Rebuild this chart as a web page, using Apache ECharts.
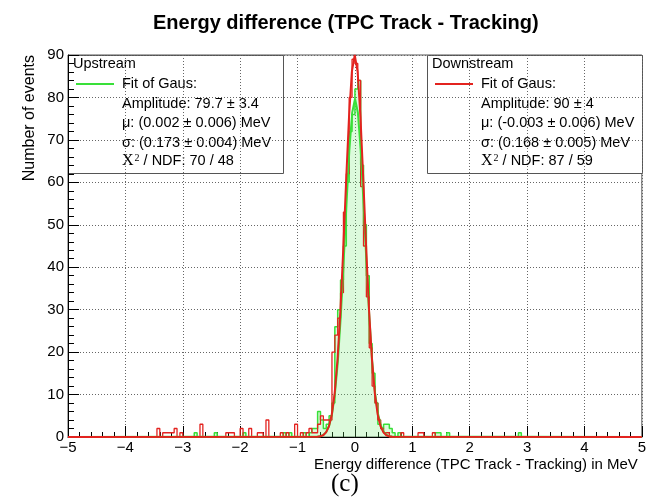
<!DOCTYPE html>
<html>
<head>
<meta charset="utf-8">
<script src="https://cdn.jsdelivr.net/npm/echarts@6/dist/echarts.min.js"></script>
<style>
  html, body { margin: 0; padding: 0; background: #fff; }
  #chart { width: 649px; height: 502px; }
</style>
</head>
<body>
<div id="chart"></div>
<script>
// Histogram binning: 200 bins of 0.05 MeV over [-5, 5]
const binWidth = 0.05;
const rangeMin = -5;
const rangeMax = 5;

// Core region counts, bins starting at -0.70 MeV
const coreStart = -0.70;
const upstreamCore = [2, 6, 4, 2, 3, 5, 8, 26, 30, 37, 45, 60, 72, 76,
                      82, 84, 64, 50, 38, 22, 15, 8, 3, 2, 3, 3, 2, 1];
const downstreamCore = [1, 3, 5, 4, 4, 4, 20, 24, 28, 34, 53, 62, 80, 89,
                        88, 84, 59, 45, 33, 21, 12, 8, 4, 2, 1, 1, 0, 0];

// Isolated tail bins: [bin low edge in MeV, count]
const upstreamTail = [[-2.80, 1], [-2.45, 1], [-1.95, 1], [-1.25, 1], [-1.15, 1],
                      [-0.90, 1], [-0.80, 1], [-0.75, 2], [0.75, 1], [1.40, 1],
                      [1.45, 1], [1.60, 1], [2.85, 1]];
const downstreamTail = [[-3.45, 2], [-3.35, 1], [-3.30, 1], [-3.25, 1], [-3.20, 1],
                        [-3.15, 2], [-3.05, 1], [-2.70, 3], [-2.25, 1], [-2.20, 1],
                        [-2.15, 1], [-2.00, 2], [-1.85, 2], [-1.70, 1], [-1.65, 1],
                        [-1.55, 4], [-1.30, 1], [-1.20, 1], [-1.05, 3], [-0.95, 1],
                        [-0.85, 1], [-0.80, 2], [-0.75, 1], [0.80, 1], [1.10, 1],
                        [1.15, 1], [1.35, 1]];

// Gaussian fit curves sampled around the peak (offset from the fitted mean)
const fitOffsets = [-0.65, -0.60, -0.55, -0.50, -0.45, -0.40, -0.35, -0.30, -0.25,
                    -0.20, -0.15, -0.10, -0.05, 0, 0.05, 0.10, 0.15, 0.20, 0.25,
                    0.30, 0.35, 0.40, 0.45, 0.50, 0.55, 0.60, 0.65];
const upstreamMean = 0.002;
const downstreamMean = -0.003;
const upstreamFit = [0.1, 0.2, 0.5, 1.2, 2.7, 5.5, 10.3, 17.7, 28.1, 40.9, 54.7, 67.4,
                     76.4, 79.7, 76.4, 67.4, 54.7, 40.9, 28.1, 17.7, 10.3, 5.5, 2.7,
                     1.2, 0.5, 0.2, 0.1];
const downstreamFit = [0.05, 0.15, 0.4, 1.1, 2.5, 5.3, 10.3, 18.3, 29.7, 44.3, 60.4,
                       75.4, 86.1, 90, 86.1, 75.4, 60.4, 44.3, 29.7, 18.3, 10.3, 5.3,
                       2.5, 1.1, 0.4, 0.15, 0.05];

// Axis ticks
const xTicks = [-5, -4, -3, -2, -1, 0, 1, 2, 3, 4, 5];
const yTicks = [0, 10, 20, 30, 40, 50, 60, 70, 80, 90];

// Fit summary text
const upstreamStats = ['Amplitude: 79.7 \u00b1 3.4', '\u03bc: (0.002 \u00b1 0.006) MeV',
                       '\u03c3: (0.173 \u00b1 0.004) MeV', ['70', '48']];
const downstreamStats = ['Amplitude: 90 \u00b1 4', '\u03bc: (-0.003 \u00b1 0.006) MeV',
                         '\u03c3: (0.168 \u00b1 0.005) MeV', ['87', '59']];

const nBins = Math.round((rangeMax - rangeMin) / binWidth);
function binIndex(x) { return Math.round((x - rangeMin) / binWidth); }

function buildHistogram(core, tail) {
  const counts = new Array(nBins).fill(0);
  core.forEach((c, k) => { counts[binIndex(coreStart + k * binWidth)] = c; });
  tail.forEach(([x, c]) => { counts[binIndex(x)] = c; });
  const pts = counts.map((c, i) => [rangeMin + i * binWidth, c]);
  pts.push([rangeMax, counts[nBins - 1]]);
  return pts;
}

function buildFit(values, mean) {
  const pts = [[rangeMin, 0]];
  fitOffsets.forEach((dx, i) => pts.push([+(dx + mean).toFixed(4), values[i]]));
  pts.push([rangeMax, 0]);
  return pts;
}

const FONT = 'Liberation Sans, Arial, Helvetica, sans-serif';
const SERIF = 'Liberation Serif, Times New Roman, serif';
const GREEN = '#39e039';
const RED = '#e3231f';
const BOX_FONT = '14.5px ' + FONT;

function minusFmt(v) { return v < 0 ? '\u2212' + (-v) : String(v); }

function statsBox(x, label, color, stats) {
  const w = 215, h = 118, y = 55;
  const lines = [
    { type: 'text', left: x + 5, top: y + 1, style: { text: label, font: BOX_FONT, fill: '#000' } },
    { type: 'line', shape: { x1: x + 8, y1: y + 29, x2: x + 46, y2: y + 29 }, style: { stroke: color, lineWidth: 2 } },
    { type: 'text', left: x + 54, top: y + 21, style: { text: 'Fit of Gaus:', font: BOX_FONT, fill: '#000' } }
  ];
  stats.slice(0, 3).forEach((s, i) => {
    lines.push({ type: 'text', left: x + 54, top: y + 41 + i * 19.5,
      style: { text: s, font: BOX_FONT, fill: '#000' } });
  });
  const chi = stats[3];
  lines.push({ type: 'text', left: x + 54, top: y + 98,
    style: {
      text: '{c|\u03a7}{s|2}{t| / NDF: ' + chi[0] + ' / ' + chi[1] + '}',
      rich: {
        c: { font: '16px ' + SERIF, fill: '#000' },
        s: { font: '10px ' + SERIF, fill: '#000', verticalAlign: 'top', padding: [0, 0, 6, 1] },
        t: { font: BOX_FONT, fill: '#000' }
      }
    } });
  return {
    type: 'group', z: 100,
    children: [
      { type: 'rect', shape: { x: x + 0.5, y: y + 0.5, width: w, height: h },
        style: { fill: '#fff', stroke: '#555', lineWidth: 1 } }
    ].concat(lines)
  };
}

const chart = echarts.init(document.getElementById('chart'), null, { renderer: 'canvas' });

const option = {
  animation: false,
  backgroundColor: '#fff',
  title: {
    text: 'Energy difference (TPC Track - Tracking)',
    left: 148, top: 8,
    textStyle: { fontFamily: FONT, fontSize: 20, fontWeight: 'bold', color: '#000' }
  },
  grid: { left: 68, right: 7, top: 55, bottom: 65, show: true, borderColor: '#555', borderWidth: 1 },
  xAxis: {
    type: 'value', min: xTicks[0], max: xTicks[xTicks.length - 1], interval: 1,
    name: 'Energy difference (TPC Track - Tracking) in MeV',
    nameLocation: 'end', nameGap: -4,
    nameTextStyle: { fontFamily: FONT, fontSize: 15, color: '#000', align: 'right', verticalAlign: 'top', padding: [20, 0, 0, 0] },
    axisLine: { onZero: false, lineStyle: { color: '#000', width: 1 } },
    axisTick: { inside: true, length: 11, lineStyle: { color: '#000' } },
    minorTick: { show: true, splitNumber: 5, length: 5, lineStyle: { color: '#000' } },
    axisLabel: { fontFamily: FONT, fontSize: 15, color: '#000', margin: 3, formatter: minusFmt },
    splitLine: { show: true, lineStyle: { color: '#666', type: [1, 2], width: 1 } }
  },
  yAxis: {
    type: 'value', min: yTicks[0], max: yTicks[yTicks.length - 1], interval: 10,
    axisLine: { show: true, onZero: false, lineStyle: { color: '#000', width: 1 } },
    axisTick: { show: true, inside: true, length: 11, lineStyle: { color: '#000' } },
    minorTick: { show: true, splitNumber: 5, length: 6, lineStyle: { color: '#000' } },
    axisLabel: { fontFamily: FONT, fontSize: 15, color: '#000', margin: 4 },
    splitLine: { show: true, lineStyle: { color: '#666', type: [1, 2], width: 1 } }
  },
  series: [
    {
      name: 'Upstream', type: 'line', step: 'end', showSymbol: false, z: 2,
      data: buildHistogram(upstreamCore, upstreamTail),
      lineStyle: { color: GREEN, width: 1.5 },
      areaStyle: { color: 'rgba(110, 235, 110, 0.35)', origin: 0 }
    },
    {
      name: 'Downstream', type: 'line', step: 'end', showSymbol: false, z: 3,
      data: buildHistogram(downstreamCore, downstreamTail),
      lineStyle: { color: RED, width: 1.3 }
    },
    {
      name: 'Upstream fit', type: 'line', showSymbol: false, z: 4,
      data: buildFit(upstreamFit, upstreamMean),
      lineStyle: { color: GREEN, width: 2 }
    },
    {
      name: 'Downstream fit', type: 'line', showSymbol: false, z: 5,
      data: buildFit(downstreamFit, downstreamMean),
      lineStyle: { color: RED, width: 2 }
    }
  ],
  graphic: [
    statsBox(68, 'Upstream', GREEN, upstreamStats),
    statsBox(427, 'Downstream', RED, downstreamStats),
    {
      type: 'text', z: 100, x: 22, y: 55, rotation: Math.PI / 2,
      style: { text: 'Number of events', font: '16px ' + FONT, fill: '#000', align: 'right', verticalAlign: 'top' }
    },
    {
      type: 'text', z: 100, left: 331, top: 472,
      style: { text: '(c)', font: '25px ' + SERIF, fill: '#000' }
    }
  ]
};

chart.setOption(option);
</script>
</body>
</html>
